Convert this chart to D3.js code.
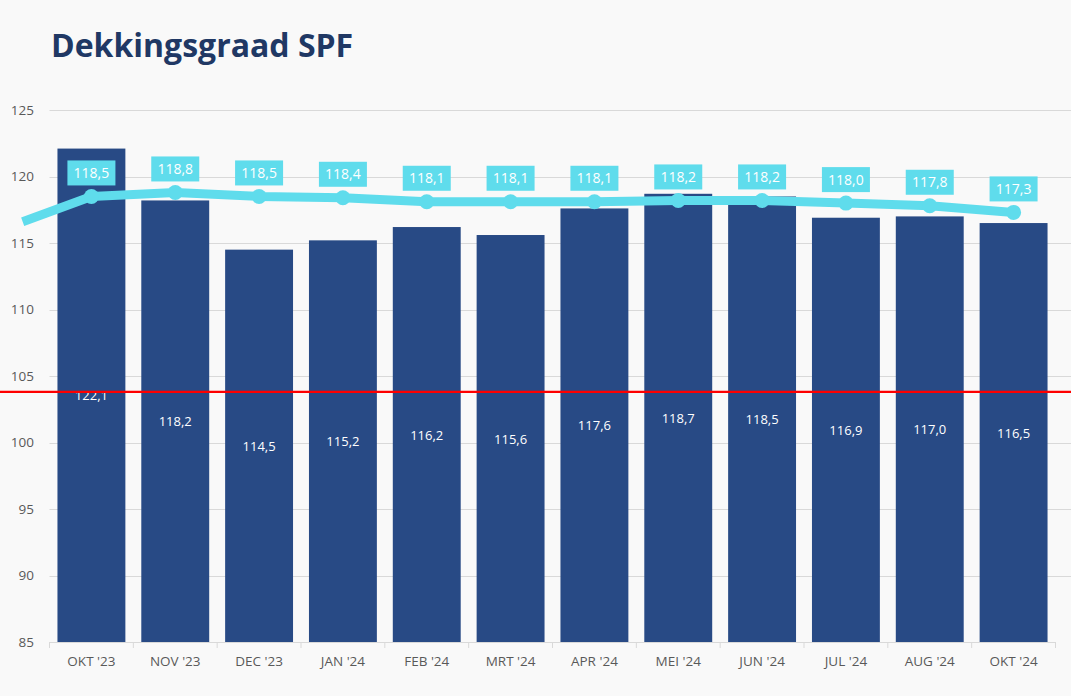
<!DOCTYPE html>
<html>
<head>
<meta charset="utf-8">
<script src="https://cdn.jsdelivr.net/npm/d3@7"></script>
<style>
  html, body { margin: 0; padding: 0; background: #f9f9f9; }
  svg { display: block; }
</style>
</head>
<body>
<svg id="chart" width="1071" height="696"></svg>
<script>
// ---- data ----
const categories = ["OKT '23", "NOV '23", "DEC '23", "JAN '24", "FEB '24", "MRT '24", "APR '24", "MEI '24", "JUN '24", "JUL '24", "AUG '24", "OKT '24"];
const barValues = [122.1, 118.2, 114.5, 115.2, 116.2, 115.6, 117.6, 118.7, 118.5, 116.9, 117.0, 116.5];
const lineValues = [118.5, 118.8, 118.5, 118.4, 118.1, 118.1, 118.1, 118.2, 118.2, 118.0, 117.8, 117.3];
const leadInValue = 116.6;      // line continues in from the left (previous month)
const requiredLevel = 103.8;    // red reference line
const yTicks = [85, 90, 95, 100, 105, 110, 115, 120, 125];
const title = "Dekkingsgraad SPF";

// ---- layout ----
const W = 1071, H = 696;
const plot = { left: 49.5, right: 1055.5, top: 110, bottom: 642 };
const colors = { bar: "#284a85", line: "#5fdcec", grid: "#d9d9d9", axisText: "#595959", title: "#203864", ref: "#ff0000" };
const fmt = v => d3.format(".1f")(v).replace(".", ",");

const svg = d3.select("#chart");

const x = d3.scaleBand().domain(categories).range([plot.left, plot.right]).paddingInner(0.19).paddingOuter(0.095);
const y = d3.scaleLinear().domain([85, 125]).range([plot.bottom, plot.top]);
const cx = c => x(c) + x.bandwidth() / 2;

// title
svg.append("text").attr("x", 51).attr("y", 57)
  .attr("font-family", "'Open Sans', sans-serif").attr("font-weight", 700).attr("font-size", 32)
  .attr("fill", colors.title).text(title);

// gridlines
svg.append("g").selectAll("line").data(yTicks.filter(t => t !== 85)).join("line")
  .attr("x1", plot.left).attr("x2", W)
  .attr("y1", d => Math.round(y(d)) + 0.5).attr("y2", d => Math.round(y(d)) + 0.5)
  .attr("stroke", colors.grid).attr("stroke-width", 1);

// y axis labels
const yAxis = d3.axisLeft(y).tickValues(yTicks).tickSize(0).tickPadding(0);
const gy = svg.append("g").attr("transform", `translate(34,0)`).call(yAxis);
gy.select(".domain").remove();
gy.selectAll("text").attr("font-family", "'Open Sans', sans-serif").attr("font-size", 13.5).attr("fill", colors.axisText);

// bars
svg.append("g").selectAll("rect").data(categories).join("rect")
  .attr("x", d => x(d)).attr("width", x.bandwidth())
  .attr("y", (d, i) => y(barValues[i])).attr("height", (d, i) => y(85) - y(barValues[i]))
  .attr("fill", colors.bar);

// x axis
const xAxis = d3.axisBottom(x).tickSize(0).tickPadding(14);
const gx = svg.append("g").attr("transform", `translate(0,${plot.bottom})`).call(xAxis);
gx.select(".domain").attr("stroke", colors.grid).attr("d", `M${plot.left},0.5H${plot.right}`);
gx.selectAll("text").attr("font-family", "'Open Sans', sans-serif").attr("font-size", 13.5).attr("fill", colors.axisText);
// category boundary ticks
const bounds = d3.range(categories.length + 1).map(i => plot.left + i * (plot.right - plot.left) / categories.length);
gx.append("g").selectAll("line").data(bounds).join("line")
  .attr("x1", d => d).attr("x2", d => d).attr("y1", 0).attr("y2", 6)
  .attr("stroke", colors.grid);

// bar value labels (centered in bar)
svg.append("g").selectAll("text").data(categories).join("text")
  .attr("x", d => cx(d))
  .attr("y", (d, i) => (y(barValues[i]) + y(85)) / 2 + 5)
  .attr("text-anchor", "middle")
  .attr("font-family", "'Open Sans', sans-serif").attr("font-size", 13)
  .attr("fill", "#ffffff")
  .text((d, i) => fmt(barValues[i]));

// red reference line
svg.append("line").attr("x1", 0).attr("x2", W)
  .attr("y1", y(requiredLevel)).attr("y2", y(requiredLevel))
  .attr("stroke", colors.ref).attr("stroke-width", 2.2);

// line series
const step = x.step();
const linePts = [[cx(categories[0]) - 0.82 * step, leadInValue]]
  .concat(categories.map((c, i) => [cx(c), lineValues[i]]));
svg.append("path").datum(linePts)
  .attr("d", d3.line().x(d => d[0]).y(d => y(d[1])))
  .attr("fill", "none").attr("stroke", colors.line).attr("stroke-width", 9)
  .attr("stroke-linejoin", "round");
svg.append("g").selectAll("circle").data(categories).join("circle")
  .attr("cx", d => cx(d)).attr("cy", (d, i) => y(lineValues[i])).attr("r", 7.5)
  .attr("fill", colors.line);

// line labels in boxes
const lbl = svg.append("g").selectAll("g").data(categories).join("g")
  .attr("transform", (d, i) => `translate(${cx(d)},${y(lineValues[i]) - 23.5})`);
lbl.append("rect").attr("x", -24).attr("y", -12.5).attr("width", 48).attr("height", 25).attr("fill", colors.line);
lbl.append("text").attr("text-anchor", "middle").attr("y", 5)
  .attr("font-family", "'Open Sans', sans-serif").attr("font-size", 14).attr("fill", "#ffffff")
  .text((d, i) => fmt(lineValues[i]));
</script>
</body>
</html>
